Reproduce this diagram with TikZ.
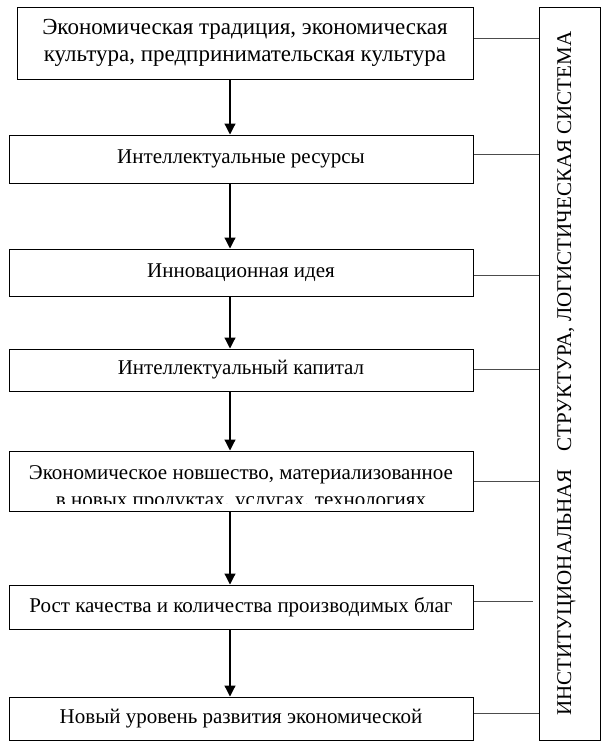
\documentclass[tikz,border=0pt]{standalone}
\usepackage{fontspec}
\setmainfont{Liberation Serif}
\usetikzlibrary{arrows.meta,calc}

\begin{document}
\begin{tikzpicture}[
        x=1pt, y=-1pt,
        box/.style={
            draw, line width=1pt, rectangle,
            minimum width=464pt, inner sep=0pt,
            align=center, font=\fontsize{21}{26}\selectfont
        },
        link/.style={line width=1pt, draw=black!70},
        arrow/.style={line width=1.2pt, -{Triangle[width=11pt,length=11pt]}}
      ]
  \useasboundingbox (0,0) rectangle (603,750);

  \node[box, minimum width=456pt, minimum height=72pt, font=\fontsize{23}{27}\selectfont] (b1) at (245,43) {Экономическая традиция, экономическая\\культура, предпринимательская культура};
  \node[box, minimum height=48pt] (b2) at (241,159) {Интеллектуальные ресурсы};
  \node[box, minimum height=47pt] (b3) at (241,272.5) {Инновационная идея};
  \node[box, minimum height=42pt] (b4) at (241,370) {Интеллектуальный капитал};
  \node[box, minimum height=60pt] (b5) at (241,481) {};
  \begin{scope}
    \clip (b5.north west) rectangle ($(b5.south east)+(0,-8)$);
    \node[anchor=base, align=center, inner sep=0pt, font=\fontsize{21}{27}\selectfont] (b5text) at (241,506) {Экономическое новшество, материализованное\\в новых продуктах, услугах, технологиях};
  \end{scope}
  \node[box, minimum height=44pt] (b6) at (241,607) {Рост качества и количества производимых благ};
  \node[box, minimum height=43pt] (b7) at (241,718.5) {Новый уровень развития экономической};

  \node[draw, line width=1pt, minimum width=61pt, minimum height=733pt, inner sep=0pt] (sys) at (569.5,373.5) {};
  \node[rotate=90, font=\fontsize{21}{26}\selectfont] (systext) at ([xshift=-3pt]sys.center) {ИНСТИТУЦИОНАЛЬНАЯ\hspace{18pt}СТРУКТУРА, ЛОГИСТИЧЕСКАЯ СИСТЕМА};

  % links to the vertical box
  \foreach \n/\s in {b1/5,b2/5,b3/-3,b4/1,b5/0,b7/5}
    \draw[link] ([yshift=\s pt]\n.east) -- ([yshift=\s pt]\n.east -| sys.west);
  \draw[link] ([yshift=6pt]b6.east) -- ($([yshift=6pt]b6.east -| sys.west)+(-6,0)$);

  % arrows down the chain
  \foreach \a/\b in {b1/b2,b2/b3,b3/b4,b4/b5,b5/b6,b6/b7}
    \draw[arrow] ($(\b.north |- \a.south)+(-11,0)$) -- ($(\b.north)+(-11,0)$);
\end{tikzpicture}
\end{document}
